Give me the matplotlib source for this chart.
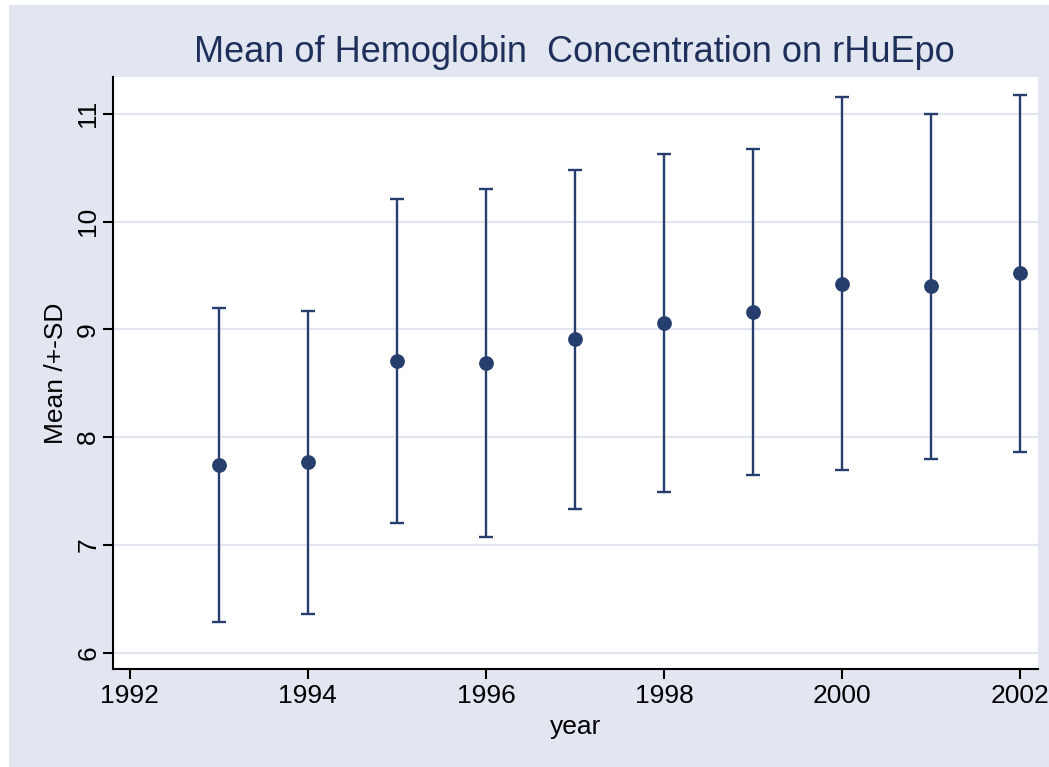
import matplotlib
matplotlib.use("Agg")
import matplotlib.pyplot as plt
from matplotlib.patches import Rectangle

# data
years = [1993, 1994, 1995, 1996, 1997, 1998, 1999, 2000, 2001, 2002]
mean_hb = [7.745, 7.765, 8.709, 8.687, 8.907, 9.061, 9.160, 9.425, 9.400, 9.520]
sd_hb = [1.457, 1.404, 1.502, 1.611, 1.570, 1.569, 1.513, 1.733, 1.600, 1.655]
x_ticks = [1992, 1994, 1996, 1998, 2000, 2002]
y_ticks = [6, 7, 8, 9, 10, 11]

navy = "#263e6e"
bg = "#e1e6f0"

plt.rcParams["font.family"] = ["Liberation Sans", "DejaVu Sans"]

fig = plt.figure(figsize=(10.49, 7.67), dpi=100, facecolor="white")
fig.patches.append(Rectangle((9 / 1049, 0), 1, 1 - 5 / 767, transform=fig.transFigure,
                             facecolor=bg, edgecolor="none", zorder=-10))

ax = fig.add_axes([112.7 / 1049, 1 - 669.3 / 767, (1038.3 - 112.7) / 1049, (669.3 - 77.3) / 767])
ax.set_facecolor("white")

ax.errorbar(years, mean_hb, yerr=sd_hb, fmt="o", color=navy, ecolor=navy,
            markersize=9.6, elinewidth=1.7, capsize=5, capthick=1.7, zorder=3)

ax.set_xlim(1991.81, 2002.2)
ax.set_ylim(5.846, 11.338)
ax.set_xticks(x_ticks)
ax.set_yticks(y_ticks)
ax.grid(axis="y", color=bg, linewidth=1.6)
ax.set_axisbelow(True)

for s in ["top", "right"]:
    ax.spines[s].set_visible(False)
for s in ["left", "bottom"]:
    ax.spines[s].set_linewidth(1.5)
    ax.spines[s].set_color("black")

ax.tick_params(axis="both", length=7, width=1.5, labelsize=19, color="black")
ax.tick_params(axis="y", pad=2)
for lab in ax.get_yticklabels():
    lab.set_rotation(90)
    lab.set_va("center")

ax.set_xlabel("year", fontsize=19, labelpad=5)
ax.set_ylabel("Mean /+-SD", fontsize=19, labelpad=6)

fig.text(0.548, 0.932, "Mean of Hemoglobin  Concentration on rHuEpo",
         ha="center", va="center", fontsize=26, color="#1f2f5c")

fig.savefig("out.png", dpi=100, facecolor=fig.get_facecolor())
